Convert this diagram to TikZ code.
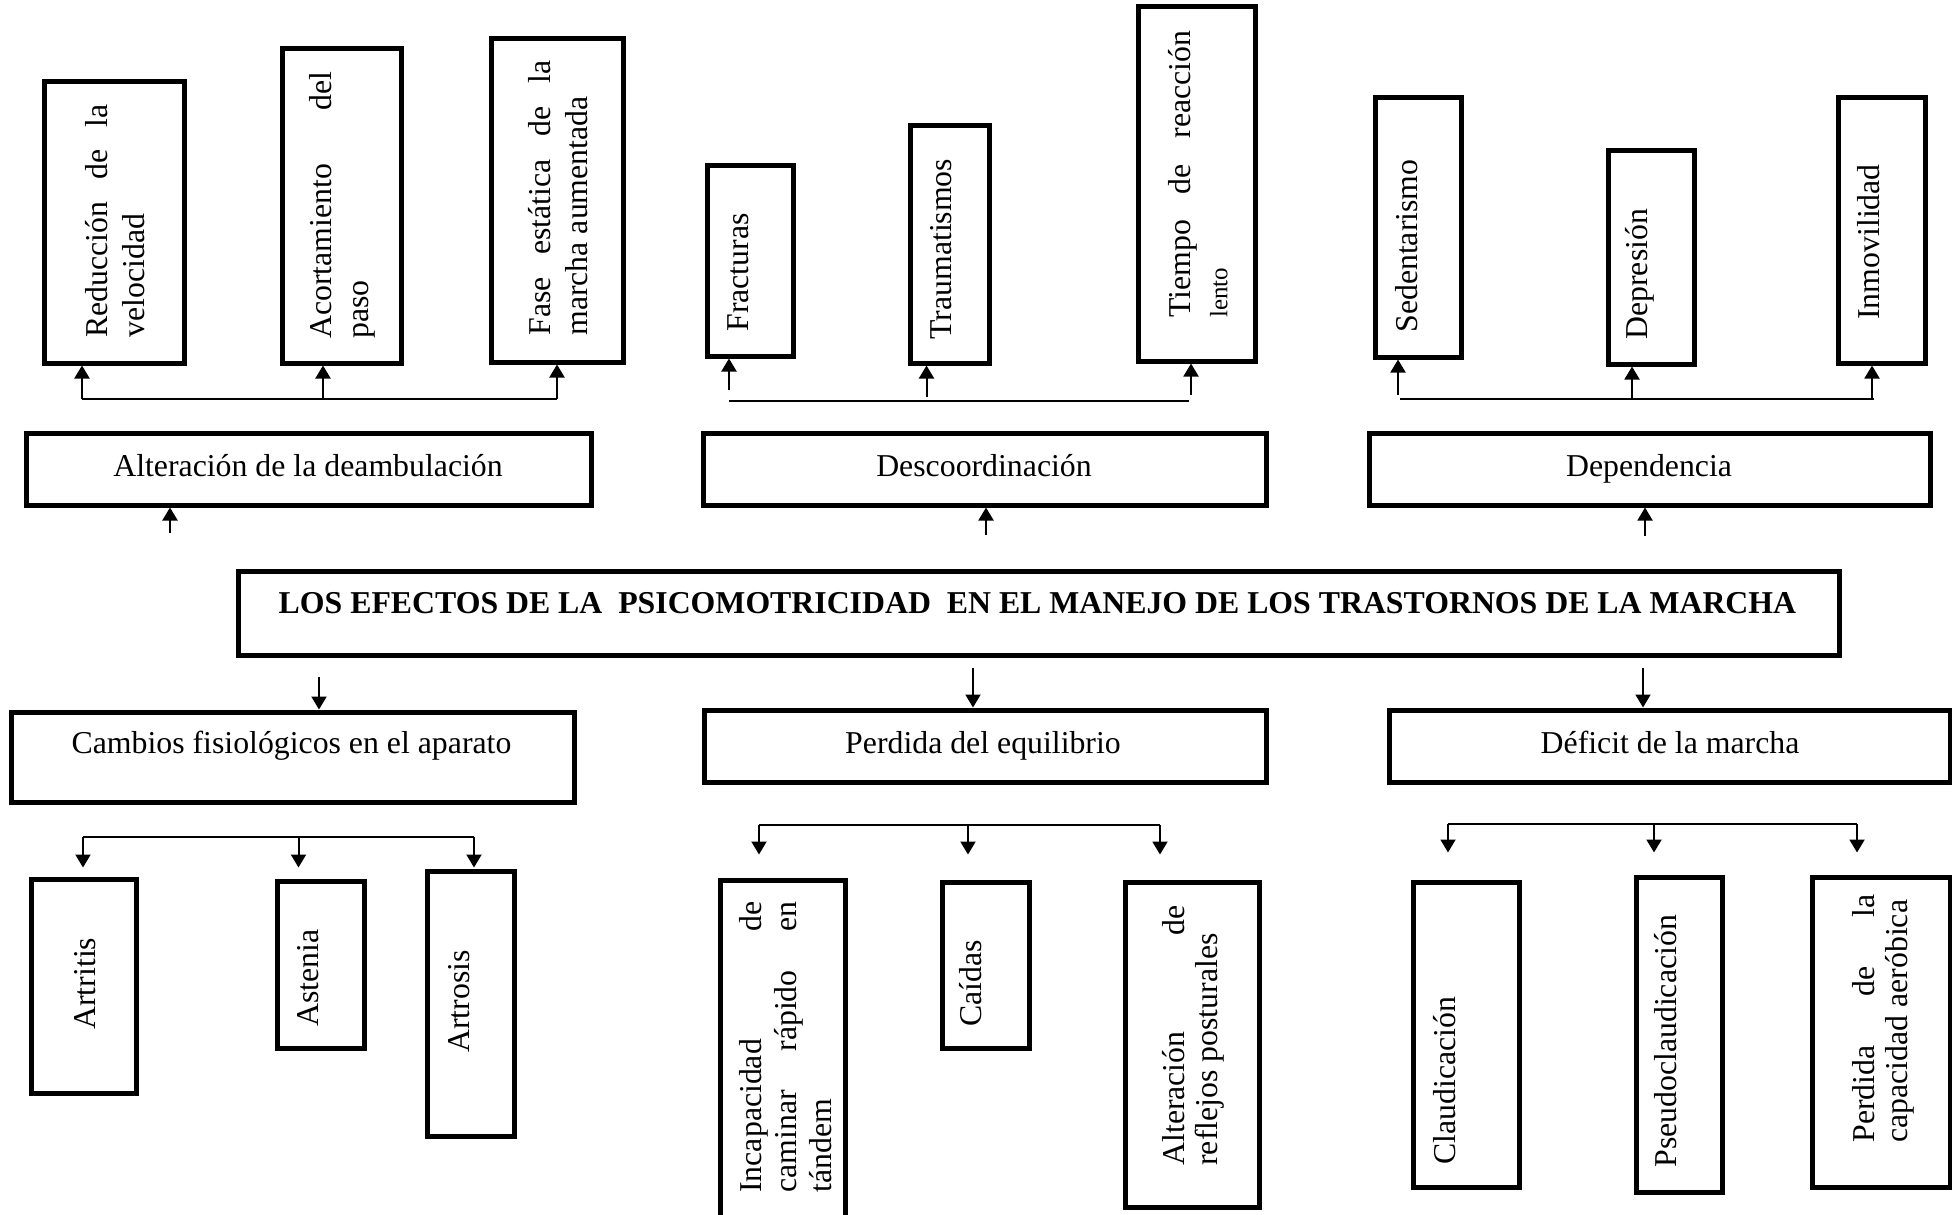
\documentclass[tikz,border=0pt]{standalone}
\usepackage{fontspec}
\setmainfont{Liberation Serif}
\usetikzlibrary{fit,arrows.meta}
\hyphenpenalty=10000
\exhyphenpenalty=10000
\hbadness=10000
\tolerance=10000
\begin{document}
\begin{tikzpicture}[x=0.5pt,y=-0.5pt,
  bx/.style={draw, line width=2.5pt, inner sep=0pt},
  vt/.style={rotate=90, anchor=west, inner sep=0pt, font=\fontsize{15.9}{18.5}\selectfont},
  vtm/.style={vt, align=justify},
  ht/.style={anchor=base, inner sep=0pt, font=\fontsize{15.9}{19}\selectfont},
  link/.style={line width=1pt},
  arr/.style={line width=1pt, -{Triangle[length=6.5pt,width=7.5pt]}}]
\useasboundingbox (0,0) rectangle (1952,1214);
\clip (0,0) rectangle (1952,1214);

% ---------- top row boxes ----------
\node[bx, fit={(44,82) (184,363)}] (b1) {};
\node[bx, fit={(282,49) (401,363)}] (b2) {};
\node[bx, fit={(491,39) (623,362)}] (b3) {};
\node[bx, fit={(707,166) (793,356)}] (b4) {};
\node[bx, fit={(910,126) (989,363)}] (b5) {};
\node[bx, fit={(1138,7) (1255,361)}] (b6) {};
\node[bx, fit={(1375,98) (1461,357)}] (b7) {};
\node[bx, fit={(1608,151) (1694,364)}] (b8) {};
\node[bx, fit={(1838,98) (1925,363)}] (b9) {};

\node[vtm, text width=116.5pt] (b1t) at (115,338) {Reducción de la\linebreak velocidad};
\node[vtm, text width=133.5pt] (b2t) at (342,339) {Acortamiento del\linebreak paso};
\node[vtm, text width=137.5pt] (b3t) at (558,336) {Fase estática de la\linebreak marcha aumentada};
\node[vt] (b4t) at (738,332) {Fracturas};
\node[vt] (b5t) at (941,340) {Traumatismos};
\node[vtm, text width=143.5pt] (b6t) at (1198,318) {Tiempo de reacción\linebreak {\fontsize{12.5}{15}\selectfont lento}};
\node[vt] (b7t) at (1407,333) {Sedentarismo};
\node[vt] (b8t) at (1640,340) {Depresión};
\node[vt] (b9t) at (1868.5,320) {Inmovilidad};

% ---------- middle boxes ----------
\node[bx, fit={(26,433) (591,505)}] (m1) {};
\node[bx, fit={(703,433) (1266,505)}] (m2) {};
\node[bx, fit={(1369,433) (1930,505)}] (m3) {};
\node[bx, fit={(238,571) (1839,655)}] (ttl) {};
\node[bx, fit={(11,712) (574,802)}] (m4) {};
\node[bx, fit={(704,710) (1266,782)}] (m5) {};
\node[bx, fit={(1389,710) (1950,782)}] (m6) {};

\node[ht] (m1t) at (308,476) {Alteración de la deambulación};
\node[ht] (m2t) at (984,476) {Descoordinación};
\node[ht] (m3t) at (1649,476) {Dependencia};
\node[ht, font=\fontsize{15.9}{19}\selectfont\bfseries] (ttlt) at (1037.5,613) {LOS EFECTOS DE LA\ \ PSICOMOTRICIDAD\ \ EN EL MANEJO DE LOS TRASTORNOS DE LA MARCHA};
\node[ht] (m4t) at (291.5,753) {Cambios fisiológicos en el aparato};
\node[ht] (m5t) at (983,753) {Perdida del equilibrio};
\node[ht] (m6t) at (1670,753) {Déficit de la marcha};

% ---------- bottom row boxes ----------
\node[bx, fit={(31,879) (136,1093)}] (c1) {};
\node[bx, fit={(277,881) (364,1048)}] (c2) {};
\node[bx, fit={(427,871) (514,1136)}] (c3) {};
\node[bx, fit={(720,880) (845,1240)}] (c4) {};
\node[bx, fit={(942,882) (1029,1048)}] (c5) {};
\node[bx, fit={(1125,882) (1259,1207)}] (c6) {};
\node[bx, fit={(1413,882) (1519,1187)}] (c7) {};
\node[bx, fit={(1636,877) (1722,1192)}] (c8) {};
\node[bx, fit={(1812,877) (1950,1187)}] (c9) {};

\node[vt] (c1t) at (85,1030) {Artritis};
\node[vt] (c2t) at (308,1027) {Astenia};
\node[vt] (c3t) at (459,1053) {Artrosis};
\node[vtm, text width=145.5pt, font=\fontsize{15.9}{17.5}\selectfont] (c4t) at (786,1193) {Incapacidad de\linebreak caminar rápido en\linebreak tándem};
\node[vt] (c5t) at (971,1027) {Caídas};
\node[vtm, text width=130pt, font=\fontsize{15.9}{16.5}\selectfont] (c6t) at (1193,1166) {Alteración de\linebreak reflejos posturales};
\node[vt] (c7t) at (1445,1165) {Claudicación};
\node[vt] (c8t) at (1666,1168) {Pseudoclaudicación};
\node[vtm, text width=124pt, font=\fontsize{15.9}{16.5}\selectfont] (c9t) at (1883,1143) {Perdida de la\linebreak capacidad aeróbica};

% ---------- connectors: top groups ----------
\coordinate (ga1) at (82,399);
\coordinate (ga2) at (323,399);
\coordinate (ga3) at (557,399);
\draw[link] (ga1) -- (ga3);
\draw[arr] (ga1) -- (ga1 |- b1.south);
\draw[arr] (ga2) -- (ga2 |- b2.south);
\draw[arr] (ga3) -- (ga3 |- b3.south);

\coordinate (gbl) at (729,401);
\coordinate (gbr) at (1189,401);
\draw[link, line width=0.75pt] (gbl) -- (gbr);
\coordinate (gb1) at (729,390);
\coordinate (gb2) at (926.5,397);
\coordinate (gb3) at (1191,395);
\draw[arr] (gb1) -- (gb1 |- b4.south);
\draw[arr] (gb2) -- (gb2 |- b5.south);
\draw[arr] (gb3) -- (gb3 |- b6.south);

\coordinate (gcl) at (1400,399);
\coordinate (gcr) at (1874,399);
\draw[link] (gcl) -- (gcr);
\coordinate (gc1) at (1398,395);
\coordinate (gc2) at (1632,399);
\coordinate (gc3) at (1872,399);
\draw[arr] (gc1) -- (gc1 |- b7.south);
\draw[arr] (gc2) -- (gc2 |- b8.south);
\draw[arr] (gc3) -- (gc3 |- b9.south);

% ---------- short arrows around the title ----------
\coordinate (ua) at (170,533);
\coordinate (ub) at (986,535);
\coordinate (uc) at (1645,536);
\draw[arr] (ua) -- (ua |- m1.south);
\draw[arr] (ub) -- (ub |- m2.south);
\draw[arr] (uc) -- (uc |- m3.south);

\coordinate (da) at (319,677);
\coordinate (db) at (973,668);
\coordinate (dc) at (1643,668);
\draw[arr] (da) -- (da |- m4.north);
\draw[arr] (db) -- (db |- m5.north);
\draw[arr] (dc) -- (dc |- m6.north);

% ---------- connectors: bottom groups ----------
\coordinate (ha1) at (83,837);
\coordinate (ha2) at (298.5,837);
\coordinate (ha3) at (474,837);
\draw[link] (ha1) -- (ha3);
\draw[arr, shorten >=4.5pt] (ha1) -- (ha1 |- c1.north);
\draw[arr, shorten >=5.5pt] (ha2) -- (ha2 |- c2.north);
\draw[arr, shorten >=0.5pt] (ha3) -- (ha3 |- c3.north);

\coordinate (hb1) at (759,825);
\coordinate (hb2) at (968,825);
\coordinate (hb3) at (1160,825);
\draw[link] (hb1) -- (hb3);
\draw[arr, shorten >=11.5pt] (hb1) -- (hb1 |- c4.north);
\draw[arr, shorten >=12.5pt] (hb2) -- (hb2 |- c5.north);
\draw[arr, shorten >=12.5pt] (hb3) -- (hb3 |- c6.north);

\coordinate (hc1) at (1448,824);
\coordinate (hc2) at (1654,824);
\coordinate (hc3) at (1857,824);
\draw[link] (hc1) -- (hc3);
\draw[arr, shorten >=13.5pt] (hc1) -- (hc1 |- c7.north);
\draw[arr, shorten >=11pt] (hc2) -- (hc2 |- c8.north);
\draw[arr, shorten >=11pt] (hc3) -- (hc3 |- c9.north);
\end{tikzpicture}
\end{document}
